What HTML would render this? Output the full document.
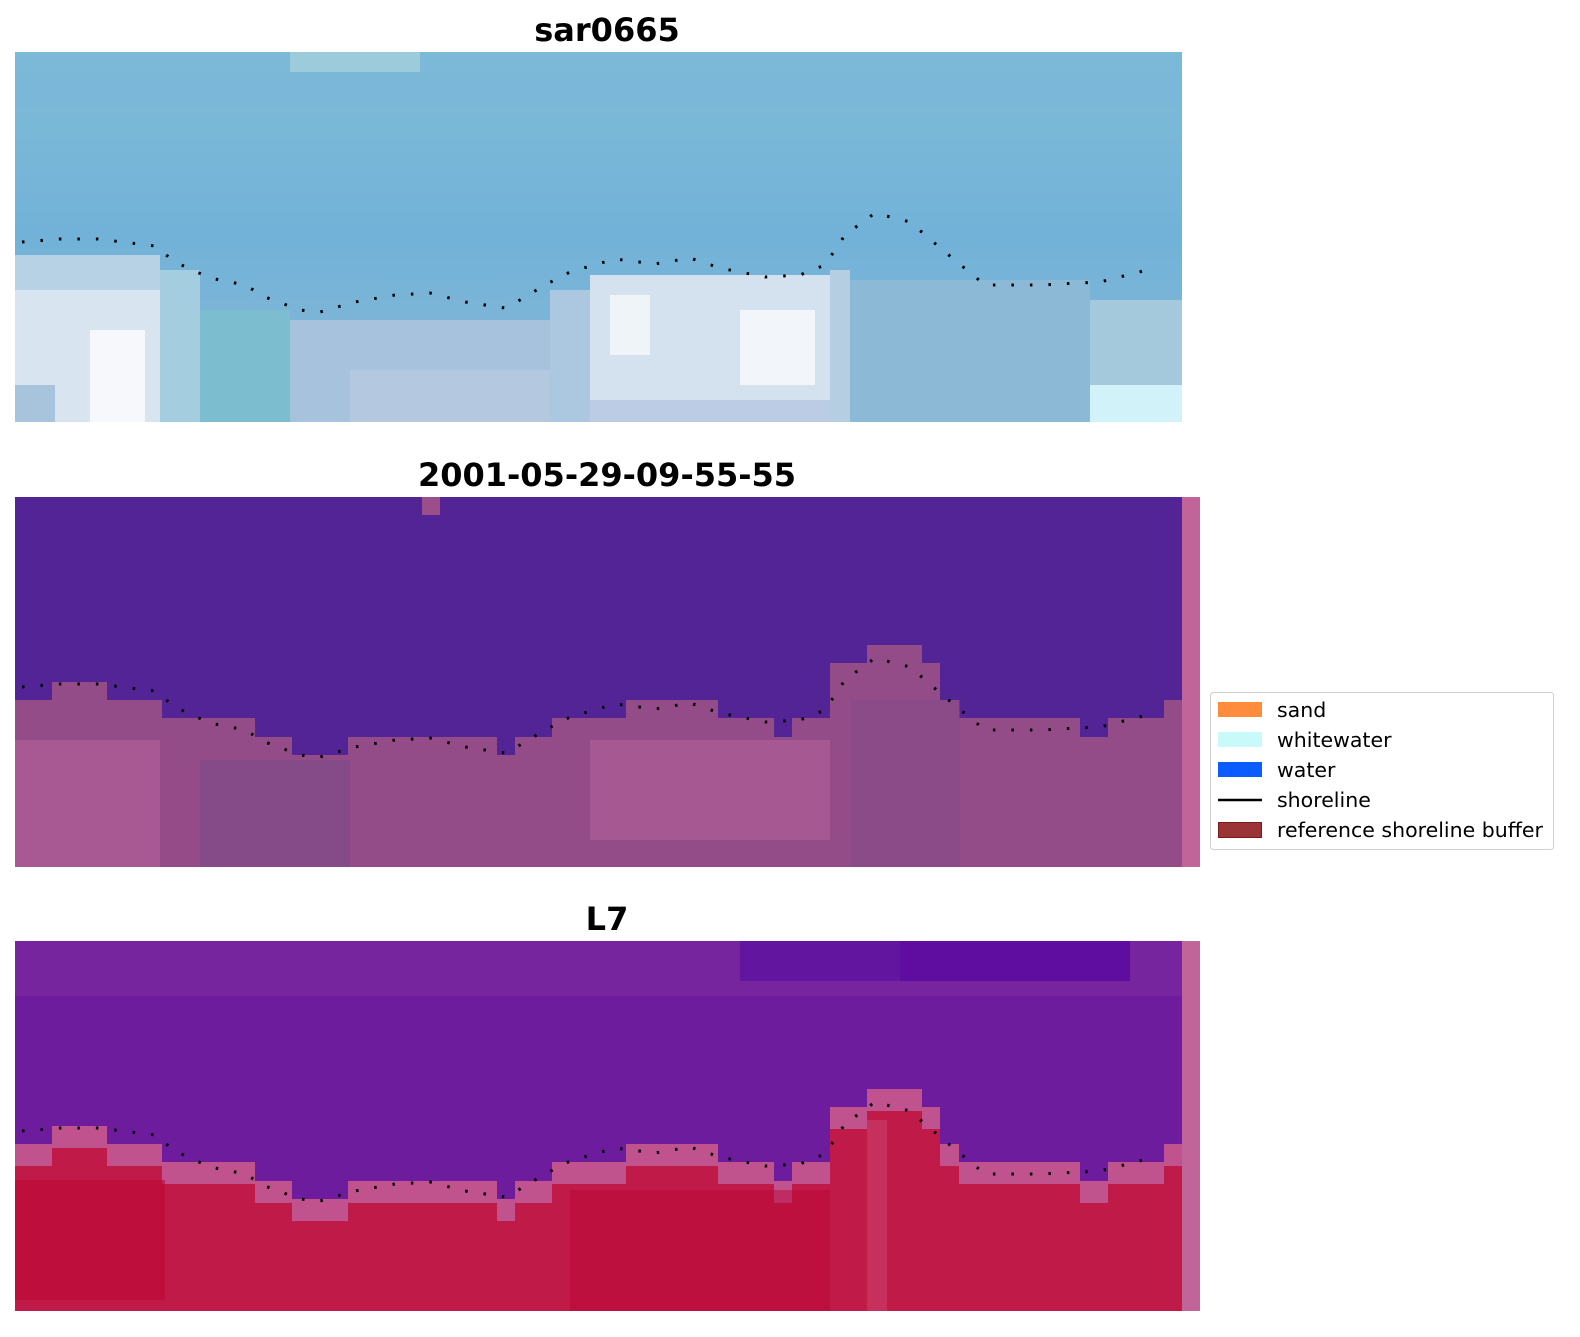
<!DOCTYPE html>
<html><head><meta charset="utf-8"><style>
html,body{margin:0;padding:0;background:#fff;}
svg{display:block;}
text{font-family:"DejaVu Sans","Liberation Sans",sans-serif;}
</style></head><body>
<svg width="1580" height="1337" viewBox="0 0 1580 1337" xmlns="http://www.w3.org/2000/svg">
<defs>
<path id="shore" d="M22,242 L60,239 L98,239 L155,246 L175,262 L210,278 L245,285 L265,297 L300,310 L320,312 L355,302 L395,295 L430,293 L465,302 L505,308 L520,300 L545,285 L570,272 L615,259 L655,264 L690,258 L720,268 L765,277 L800,275 L825,265 L845,235 L875,213 L910,222 L945,252 L985,285 L1040,285 L1100,282 L1155,268" fill="none" stroke="#000" stroke-width="3" stroke-dasharray="2.5 16"/>
<path id="bnd" d="M15,700 H52 V682 H107 V700 H162 V718 H255 V737 H292 V755 H348 V737 H497 V755 H515 V737 H552 V718 H626 V700 H718 V718 H774 V737 H792 V718 H830 V663 H867 V645 H922 V663 H940 V700 H959 V718 H1080 V737 H1108 V718 H1164 V700 H1182 V867 H15 Z"/>
<linearGradient id="g1" x1="0" y1="0" x2="0" y2="1">
<stop offset="0" stop-color="#80bcd8"/><stop offset="0.5" stop-color="#72b2d8"/><stop offset="1" stop-color="#88b8d6"/>
</linearGradient>
<clipPath id="c3"><rect x="15" y="941" width="1167" height="370"/></clipPath>
</defs>
<!-- Panel 1 -->
<text x="607" y="41" font-size="32" font-weight="bold" text-anchor="middle">sar0665</text>
<rect x="15" y="52" width="1167" height="370" fill="url(#g1)"/>
<rect x="15" y="52" width="1167" height="55" fill="#7ab6d8" opacity="0.6"/>
<rect x="290" y="52" width="130" height="20" fill="#9cccdc"/>
<rect x="15" y="255" width="145" height="35" fill="#b6d2e4"/>
<rect x="15" y="290" width="145" height="132" fill="#d8e4f0"/>
<rect x="90" y="330" width="55" height="92" fill="#f6f8fc"/>
<rect x="15" y="385" width="40" height="37" fill="#a8c4dc"/>
<rect x="160" y="270" width="40" height="152" fill="#a4cde0"/>
<rect x="200" y="310" width="90" height="112" fill="#7cbed0"/>
<rect x="290" y="320" width="260" height="102" fill="#a6c2dc"/>
<rect x="350" y="370" width="200" height="52" fill="#b4c8e0"/>
<rect x="550" y="290" width="40" height="132" fill="#acc8e0"/>
<rect x="590" y="275" width="240" height="125" fill="#d4e2f0"/>
<rect x="610" y="295" width="40" height="60" fill="#eef4f8"/>
<rect x="740" y="310" width="75" height="75" fill="#f2f6fa"/>
<rect x="590" y="400" width="260" height="22" fill="#bccce4"/>
<rect x="830" y="270" width="20" height="152" fill="#b6cee2"/>
<rect x="850" y="280" width="240" height="142" fill="#8cbad6"/>
<rect x="1090" y="300" width="92" height="85" fill="#a4c8dc"/>
<rect x="1090" y="385" width="92" height="37" fill="#d0f2f8"/>
<use href="#shore"/>
<!-- Panel 2 -->
<text x="607" y="486" font-size="32" font-weight="bold" text-anchor="middle">2001-05-29-09-55-55</text>
<rect x="15" y="497" width="1167" height="370" fill="#532496"/>
<rect x="422" y="497" width="18" height="18" fill="#9a4f8a"/>
<use href="#bnd" fill="#934c88"/>
<rect x="15" y="740" width="145" height="127" fill="#b0609a" opacity="0.7"/>
<rect x="200" y="760" width="150" height="107" fill="#7c4a88" opacity="0.6"/>
<rect x="590" y="740" width="240" height="100" fill="#b0609a" opacity="0.6"/>
<rect x="850" y="700" width="110" height="167" fill="#844a88" opacity="0.5"/>
<rect x="1182" y="497" width="18" height="370" fill="#c0649a"/>
<use href="#shore" transform="translate(0,445)"/>
<!-- Panel 3 -->
<text x="607" y="930" font-size="32" font-weight="bold" text-anchor="middle">L7</text>
<g clip-path="url(#c3)">
<rect x="15" y="941" width="1167" height="370" fill="#6c1c9c"/>
<rect x="15" y="941" width="1167" height="55" fill="#7a2aa0" opacity="0.7"/>
<rect x="740" y="941" width="160" height="40" fill="#5a0ea0" opacity="0.7"/>
<rect x="900" y="941" width="230" height="40" fill="#5a08a0" opacity="0.8"/>
<g transform="translate(0,444)"><use href="#bnd" fill="#c0528e"/></g>
<g transform="translate(0,466)"><use href="#bnd" fill="#c01a48"/></g>
<rect x="15" y="1180" width="150" height="120" fill="#ba0636" opacity="0.6"/>
<rect x="570" y="1190" width="260" height="121" fill="#ba0636" opacity="0.5"/>
<rect x="867" y="1120" width="20" height="191" fill="#c8406a" opacity="0.6"/>
</g>
<rect x="1182" y="941" width="18" height="370" fill="#c0649a"/>
<use href="#shore" transform="translate(0,889)"/>
<!-- Legend -->
<rect x="1210.5" y="692.5" width="343" height="157" rx="3" fill="#fff" stroke="#d0d0d0"/>
<rect x="1218" y="702" width="44" height="15" fill="#ff8c3c"/>
<rect x="1218" y="732" width="44" height="15" fill="#c8fafa"/>
<rect x="1218" y="762" width="44" height="15" fill="#0a5cff"/>
<line x1="1218" y1="800" x2="1262" y2="800" stroke="#000" stroke-width="2.5"/>
<rect x="1218.5" y="822.5" width="43" height="15" fill="#9a3436" stroke="#7a1a1a"/>
<g font-size="20.5" fill="#000">
<text x="1277" y="717">sand</text>
<text x="1277" y="747">whitewater</text>
<text x="1277" y="777">water</text>
<text x="1277" y="807">shoreline</text>
<text x="1277" y="837">reference shoreline buffer</text>
</g>
</svg>
</body></html>
